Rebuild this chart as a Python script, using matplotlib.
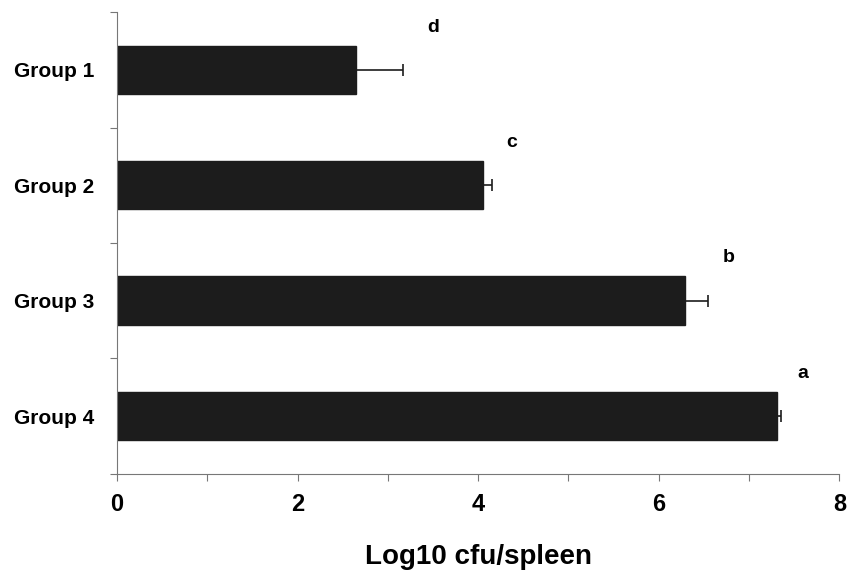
import matplotlib.pyplot as plt
import numpy as np

# Données (Log10 cfu/spleen)
groupes = ["Group 1", "Group 2", "Group 3", "Group 4"]
moyennes = [2.65, 4.05, 6.29, 7.31]
erreurs = [0.52, 0.10, 0.26, 0.04]
lettres = ["d", "c", "b", "a"]
lettres_x = [3.5, 4.37, 6.77, 7.6]

plt.rcParams['font.family'] = ['Liberation Sans', 'DejaVu Sans']

fig = plt.figure(figsize=(8.47, 5.77), dpi=100)
ax = fig.add_axes([0.138, 0.179, 0.853, 0.80])

pos = np.arange(1, len(groupes) + 1)
ax.barh(pos, moyennes, height=0.42, color='#1c1c1c', edgecolor='#1c1c1c')
ax.errorbar(moyennes, pos, xerr=[np.zeros(len(erreurs)), erreurs], fmt='none',
            ecolor='#1c1c1c', elinewidth=1.2, capsize=4.5, capthick=1.2)

for xl, yl, t in zip(lettres_x, pos - 0.37, lettres):
    ax.text(xl, yl, t, ha='center', va='center', fontsize=14, fontweight='bold')

ax.set_xlim(0, 8)
ax.set_ylim(4.5, 0.5)
ax.set_xticks([0, 2, 4, 6, 8])
ax.set_xticks([1, 3, 5, 7], minor=True)
ax.set_yticks(pos)
ax.set_yticklabels(groupes, fontsize=15, fontweight='bold')
ax.set_yticks([0.5, 1.5, 2.5, 3.5, 4.5], minor=True)

for lab in ax.get_xticklabels():
    lab.set_fontweight('bold')
    lab.set_fontsize(17)

ax.tick_params(axis='y', which='major', length=0, pad=16)
ax.tick_params(axis='y', which='minor', length=5, color='#777777', width=0.8)
ax.tick_params(axis='x', which='both', length=5, color='#777777', width=0.8, pad=9)

ax.set_xlabel("Log10 cfu/spleen", fontsize=20, fontweight='bold', labelpad=20)

for s in ['top', 'right']:
    ax.spines[s].set_visible(False)
for s in ['left', 'bottom']:
    ax.spines[s].set_color('#777777')
    ax.spines[s].set_linewidth(0.8)

plt.savefig('out.png', dpi=100)
